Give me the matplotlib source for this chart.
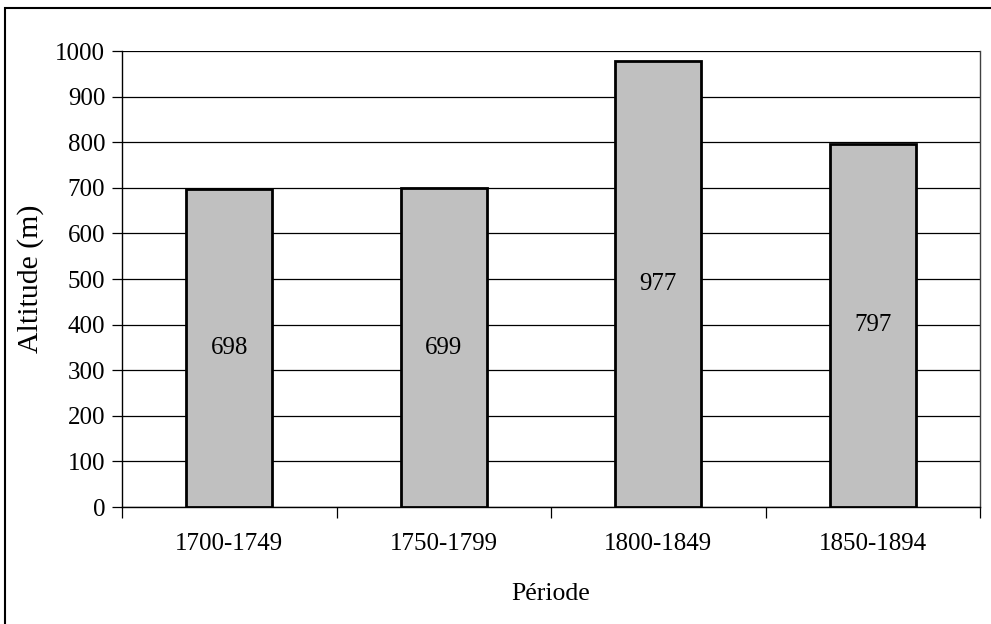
import matplotlib
matplotlib.use('Agg')
import matplotlib.pyplot as plt
from matplotlib.patches import Rectangle

periods = ['1700-1749', '1750-1799', '1800-1849', '1850-1894']
altitudes = [698, 699, 977, 797]

plt.rcParams['font.family'] = ['Liberation Serif', 'DejaVu Serif']

W, H = 991, 624
fig = plt.figure(figsize=(W / 100, H / 100), dpi=100)
ax = fig.add_axes([122 / W, 1 - 507 / H, (980 - 122) / W, (507 - 51) / H])

# outer frame (cropped at right and bottom)
fig.patches.append(Rectangle((5 / W, -0.1), 1.2, 1 - 8 / H + 0.1, transform=fig.transFigure,
                             fill=False, edgecolor='black', linewidth=1.5))

x = range(len(periods))
ax.bar(x, altitudes, width=0.4, color='#c0c0c0', edgecolor='black', linewidth=2, zorder=3)
for xi, v in zip(x, altitudes):
    ax.text(xi, v / 2, str(v), ha='center', va='center', fontsize=18, zorder=4)

ax.set_xlim(-0.5, len(periods) - 0.5)
ax.set_ylim(0, 1000)
ax.set_yticks(range(0, 1001, 100))
ax.yaxis.grid(True, color='black', linewidth=0.9, zorder=0)
ax.set_axisbelow(True)

# ticks between categories, labels centred under the bars
ax.set_xticks([i - 0.5 for i in range(len(periods) + 1)])
ax.set_xticklabels([])
ax.set_xticks(list(x), minor=True)
ax.set_xticklabels(periods, minor=True, fontsize=18)
ax.tick_params(axis='x', which='minor', length=0, pad=19)
ax.tick_params(axis='x', which='major', length=8, width=0.9, direction='out')
ax.tick_params(axis='y', length=7, width=0.9, labelsize=18, pad=5)

ax.spines['top'].set_visible(False)
ax.spines['right'].set_color('#404040')
for s in ['left', 'bottom', 'right']:
    ax.spines[s].set_linewidth(1)

ax.set_ylabel('Altitude (m)', fontsize=21.5, labelpad=8)
ax.set_xlabel('Période', fontsize=18.5, labelpad=20)

fig.savefig('out.png', dpi=100)
